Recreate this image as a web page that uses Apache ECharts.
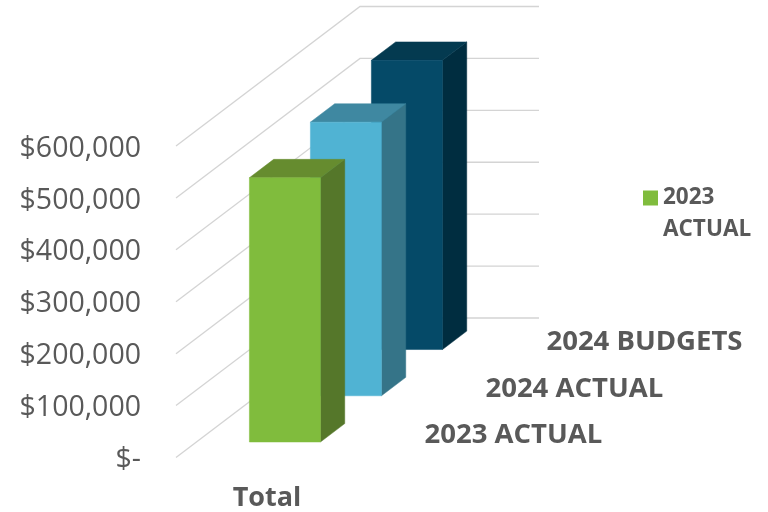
<!DOCTYPE html>
<html>
<head>
<meta charset="utf-8">
<style>html,body{margin:0;padding:0;background:#fff}#c{width:768px;height:512px}</style>
<script src="https://cdn.jsdelivr.net/npm/echarts@6/dist/echarts.min.js"></script>
</head>
<body>
<div id="c"></div>
<script>
const categories = ['Total'];
const seriesNames = ['2023 ACTUAL', '2024 ACTUAL', '2024 BUDGETS'];
const values2023Actual = [509000];
const values2024Actual = [527000];
const values2024Budgets = [557000];
const yTicks = [0, 100000, 200000, 300000, 400000, 500000, 600000];
const yTickLabels = ['$-', '$100,000', '$200,000', '$300,000', '$400,000', '$500,000', '$600,000'];
const legendShown = ['2023 ACTUAL'];

const frontColors = ['#80BC3D', '#50B3D3', '#054A68'];
const topColors = ['#668C2F', '#3F88A1', '#043A50'];
const sideColors = ['#55772A', '#357488', '#002D40'];
const TEXT = '#595959';
const FONT = '"Open Sans", sans-serif';

// oblique projection of the depth axis, in pixels
const DX = 184, DY = -139.5;
const rowDepth = 0.3315;
const barDepth = 0.132, rowStart = 0.111;
const barWidth = 0.397, barShift = -1;
const at = (p, d) => [p[0] + DX * d, p[1] + DY * d];

function wallItem(params, api) {
  const v = api.value(1);
  const c = api.coord([0, v]);
  const half = api.size([1, 0])[0] / 2;
  const a = [c[0] - half, c[1]];
  const b = [c[0] + half, c[1]];
  return {
    type: 'polyline', silent: true,
    shape: { points: [a, at(a, 1), at(b, 1)] },
    style: { fill: null, stroke: '#D4D4D4', lineWidth: 1.3 }
  };
}

function barItem(i) {
  return function (params, api) {
    const v = api.value(1);
    const c0 = api.coord([0, 0]);
    const c1 = api.coord([0, v]);
    const w = api.size([1, 0])[0] * barWidth;
    const cx = c0[0] + barShift;
    const d0 = i * rowDepth + rowStart;
    const fl = at([cx - w / 2, c1[1]], d0);
    const fr = at([cx + w / 2, c1[1]], d0);
    const bl = at([cx - w / 2, c0[1]], d0);
    const br = at([cx + w / 2, c0[1]], d0);
    const poly = (pts, fill) => ({
      type: 'polygon', shape: { points: pts },
      style: { fill: fill, stroke: fill, lineWidth: 0.5 }
    });
    return {
      type: 'group',
      children: [
        poly([br, fr, at(fr, barDepth), at(br, barDepth)], sideColors[i]),
        poly([fl, fr, at(fr, barDepth), at(fl, barDepth)], topColors[i]),
        poly([fl, fr, br, bl], frontColors[i]),
        {
          type: 'text',
          style: {
            x: br[0] + 104, y: br[1] - 7,
            text: seriesNames[i],
            fill: TEXT, font: 'bold 27.5px ' + FONT,
            align: 'left', verticalAlign: 'middle'
          }
        }
      ]
    };
  };
}

const barValues = [values2023Actual, values2024Actual, values2024Budgets];
const barSeries = [2, 1, 0].map(i => ({
  type: 'custom',
  name: seriesNames[i],
  clip: false,
  z: 5 + (2 - i),
  itemStyle: { color: frontColors[i] },
  renderItem: barItem(i),
  encode: { x: 0, y: 1 },
  data: barValues[i].map((v, k) => [k, v])
}));

const chart = echarts.init(document.getElementById('c'), null, { renderer: 'canvas' });
chart.setOption({
  animation: false,
  backgroundColor: '#fff',
  grid: { left: 176, top: 146, width: 179, height: 311.5 },
  legend: {
    data: legendShown,
    left: 638, top: 145,
    icon: 'rect', itemWidth: 15, itemHeight: 15, itemGap: 8,
    formatter: n => '\n' + n.replace(' ', '\n'),
    textStyle: { color: TEXT, fontFamily: FONT, fontWeight: 'bold', fontSize: 22.5, lineHeight: 32 }
  },
  xAxis: {
    type: 'category', data: categories,
    axisLine: { show: false }, axisTick: { show: false },
    axisLabel: { color: TEXT, fontFamily: FONT, fontWeight: 'bold', fontSize: 27, margin: 27, padding: [0, 0, 0, 3] }
  },
  yAxis: {
    type: 'value', min: 0, max: 600000, interval: 100000,
    axisLine: { show: false }, axisTick: { show: false }, splitLine: { show: false },
    axisLabel: {
      margin: 35,
      formatter: v => '{t|' + yTickLabels[yTicks.indexOf(v)] + '}',
      rich: { t: { color: TEXT, fontFamily: FONT, fontSize: 28.5, padding: [5, 0, 0, 0] } }
    }
  },
  series: [{
    type: 'custom', name: 'walls', clip: false, z: 1, silent: true,
    renderItem: wallItem,
    encode: { x: 0, y: 1 },
    data: yTicks.map(v => [0, v])
  }].concat(barSeries)
});
</script>
</body>
</html>
